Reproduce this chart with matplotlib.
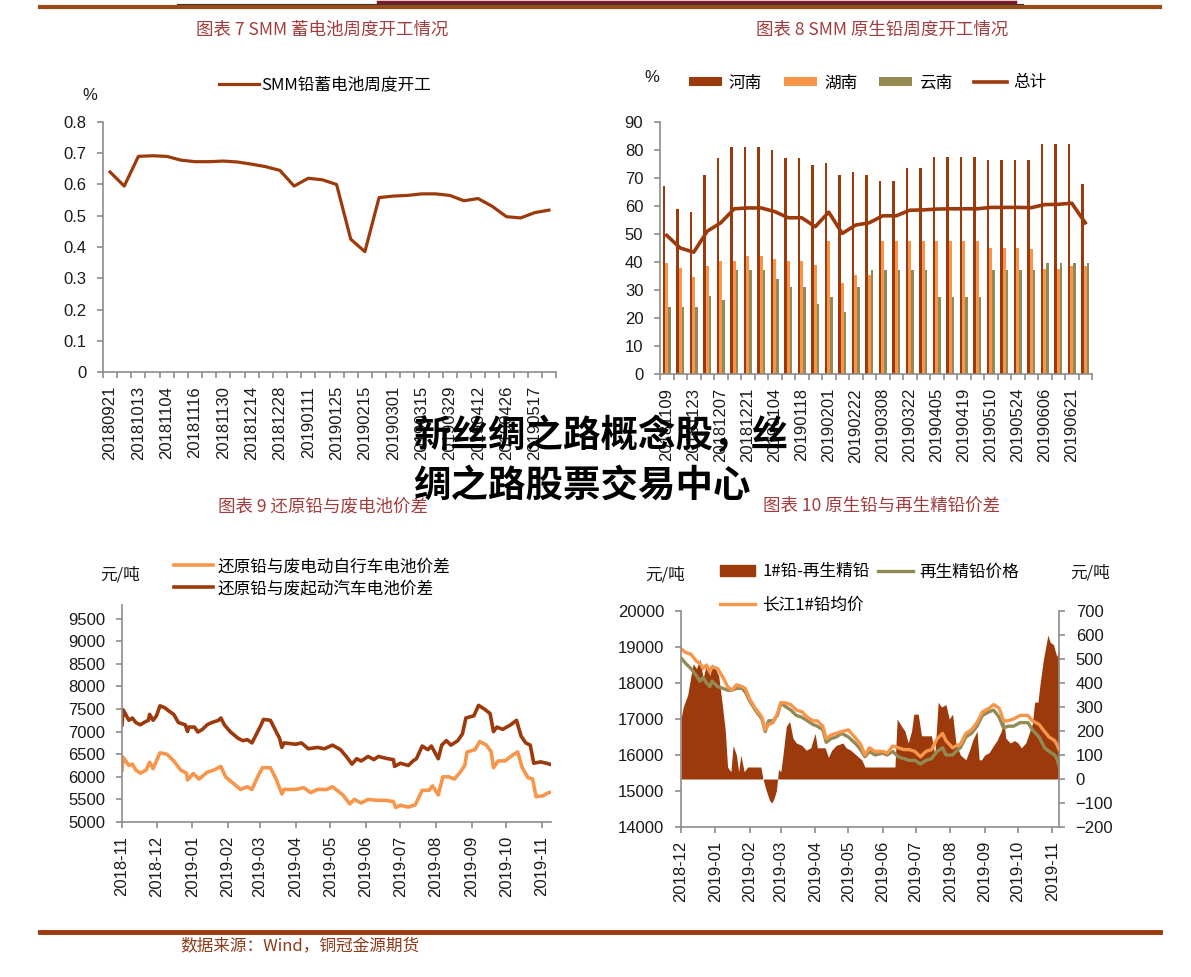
import numpy as np
import matplotlib
matplotlib.use("Agg")
import matplotlib.pyplot as plt
import matplotlib.dates as mdates
from matplotlib.lines import Line2D
from matplotlib.patches import Patch
import pandas as pd

plt.rcParams['font.family'] = ['Liberation Sans', 'Noto Sans CJK SC', 'DejaVu Sans']
CJK = ['Noto Sans CJK SC', 'DejaVu Sans']

DARK = '#9C3A0B'
ORANGE = '#F7964A'
OLIVE = '#948A54'
GRAY = '#8C8C8C'
TITLE = '#A33C3C'

# ---- chart 7: SMM lead battery weekly operating rate
labels1 = ['20180921', '20181013', '20181104', '20181116', '20181130', '20181214',
           '20181228', '20190111', '20190125', '20190215', '20190301', '20190315',
           '20190329', '20190412', '20190426', '20190517']
vals1 = [0.64, 0.595, 0.69, 0.692, 0.69, 0.678, 0.673, 0.673, 0.675, 0.672, 0.665,
         0.657, 0.645, 0.595, 0.62, 0.615, 0.60, 0.425, 0.385, 0.558, 0.563, 0.565,
         0.57, 0.57, 0.565, 0.548, 0.555, 0.53, 0.497, 0.493, 0.51, 0.518]

# ---- chart 8: primary lead weekly operating rate
labels2 = ['20181109', '20181123', '20181207', '20181221', '20190104', '20190118',
           '20190201', '20190222', '20190308', '20190322', '20190405', '20190419',
           '20190510', '20190524', '20190606', '20190621']
henan = [67, 59, 58, 71, 77, 81, 81, 81, 80, 77, 77, 74.5, 75.5, 71, 72, 71,
         69, 69, 73.5, 73.5, 77.5, 77.5, 77.5, 77.5, 76.5, 76.5, 76.5, 76.5, 82, 82, 82, 68]
hunan = [39.5, 38, 34.5, 38.5, 40.5, 40.5, 42, 42, 41, 40.5, 40.5, 39, 47.5, 32.5, 35.5, 35.5,
         47.5, 47.5, 47.5, 47.5, 47.5, 47.5, 47.5, 47.5, 45, 45, 45, 44.5, 37.5, 37.5, 38.5, 38.5]
yunnan = [24, 24, 24, 28, 26.5, 37, 37, 37, 34, 31, 31, 25, 27.5, 22, 31, 37,
          37, 37, 37, 37, 27.5, 27.5, 27.5, 27.5, 37, 37, 37, 37, 39.5, 39.5, 39.5, 39.5]
total = [49.5, 45, 43.5, 51, 54, 59, 59.3, 59.3, 58, 55.8, 55.8, 52.6, 57.8, 50.2, 53.2, 54,
         56.5, 56.5, 58.5, 58.6, 58.9, 59, 59, 59, 59.5, 59.5, 59.5, 59.4, 60.5, 60.6, 61, 54]

# ---- chart 9: reduced lead vs scrap battery spread
bike = [("2018-11-01", 6150), ("2018-11-02", 6430), ("2018-11-07", 6250), ("2018-11-10", 6280),
        ("2018-11-13", 6150), ("2018-11-17", 6080), ("2018-11-22", 6150), ("2018-11-25", 6320),
        ("2018-11-28", 6180), ("2018-12-04", 6530), ("2018-12-10", 6500), ("2018-12-16", 6350),
        ("2018-12-22", 6150), ("2018-12-27", 6080), ("2018-12-28", 5930), ("2019-01-02", 6070),
        ("2019-01-07", 5950), ("2019-01-14", 6100), ("2019-01-20", 6150), ("2019-01-26", 6230),
        ("2019-01-30", 6000), ("2019-02-06", 5850), ("2019-02-12", 5720), ("2019-02-18", 5780),
        ("2019-02-22", 5720), ("2019-02-26", 5950), ("2019-03-03", 6200), ("2019-03-10", 6200),
        ("2019-03-15", 5950), ("2019-03-20", 5620), ("2019-03-22", 5720), ("2019-04-01", 5720),
        ("2019-04-08", 5760), ("2019-04-14", 5650), ("2019-04-20", 5720), ("2019-04-28", 5720),
        ("2019-05-03", 5780), ("2019-05-12", 5600), ("2019-05-18", 5400), ("2019-05-22", 5500),
        ("2019-05-28", 5420), ("2019-06-03", 5500), ("2019-06-10", 5480), ("2019-06-18", 5480),
        ("2019-06-25", 5450), ("2019-06-27", 5320), ("2019-07-01", 5370), ("2019-07-08", 5330),
        ("2019-07-14", 5380), ("2019-07-20", 5700), ("2019-07-26", 5700), ("2019-07-29", 5800),
        ("2019-08-03", 5600), ("2019-08-07", 6000), ("2019-08-12", 6000), ("2019-08-17", 5950),
        ("2019-08-22", 6100), ("2019-08-26", 6250), ("2019-08-28", 6550), ("2019-09-04", 6600),
        ("2019-09-08", 6780), ("2019-09-14", 6700), ("2019-09-18", 6550), ("2019-09-20", 6200),
        ("2019-09-24", 6350), ("2019-09-30", 6350), ("2019-10-05", 6450), ("2019-10-11", 6550),
        ("2019-10-15", 6200), ("2019-10-20", 5980), ("2019-10-24", 5950), ("2019-10-27", 5560),
        ("2019-11-02", 5580), ("2019-11-06", 5640), ("2019-11-09", 5660)]
car = [("2018-11-01", 7150), ("2018-11-02", 7480), ("2018-11-07", 7250), ("2018-11-10", 7300),
       ("2018-11-13", 7200), ("2018-11-17", 7150), ("2018-11-20", 7200), ("2018-11-24", 7250),
       ("2018-11-25", 7380), ("2018-11-28", 7250), ("2018-12-01", 7350), ("2018-12-04", 7570),
       ("2018-12-08", 7530), ("2018-12-12", 7450), ("2018-12-16", 7380), ("2018-12-20", 7200),
       ("2018-12-26", 7150), ("2018-12-28", 7000), ("2018-12-29", 7100), ("2019-01-03", 7100),
       ("2019-01-06", 6990), ("2019-01-10", 7050), ("2019-01-14", 7150), ("2019-01-18", 7200),
       ("2019-01-24", 7250), ("2019-01-26", 7300), ("2019-01-29", 7150), ("2019-02-03", 7000),
       ("2019-02-10", 6850), ("2019-02-14", 6800), ("2019-02-18", 6820), ("2019-02-22", 6750),
       ("2019-02-26", 6950), ("2019-03-02", 7150), ("2019-03-04", 7270), ("2019-03-10", 7250),
       ("2019-03-14", 7050), ("2019-03-18", 6850), ("2019-03-20", 6650), ("2019-03-22", 6750),
       ("2019-04-01", 6720), ("2019-04-06", 6750), ("2019-04-12", 6620), ("2019-04-20", 6650),
       ("2019-04-26", 6620), ("2019-05-03", 6700), ("2019-05-10", 6600), ("2019-05-15", 6450),
       ("2019-05-20", 6280), ("2019-05-24", 6400), ("2019-05-28", 6350), ("2019-06-03", 6450),
       ("2019-06-08", 6380), ("2019-06-12", 6450), ("2019-06-20", 6400), ("2019-06-25", 6380),
       ("2019-06-26", 6230), ("2019-07-01", 6300), ("2019-07-08", 6250), ("2019-07-12", 6350),
       ("2019-07-15", 6400), ("2019-07-20", 6680), ("2019-07-25", 6600), ("2019-07-28", 6680),
       ("2019-08-03", 6400), ("2019-08-06", 6700), ("2019-08-10", 6800), ("2019-08-14", 6700),
       ("2019-08-20", 6800), ("2019-08-24", 6950), ("2019-08-27", 7300), ("2019-09-03", 7350),
       ("2019-09-07", 7580), ("2019-09-12", 7500), ("2019-09-17", 7400), ("2019-09-20", 7000),
       ("2019-09-23", 7100), ("2019-09-28", 7050), ("2019-10-05", 7150), ("2019-10-10", 7250),
       ("2019-10-14", 6900), ("2019-10-18", 6750), ("2019-10-22", 6700), ("2019-10-25", 6300),
       ("2019-10-31", 6330), ("2019-11-05", 6300), ("2019-11-09", 6270)]

# ---- chart 10: primary vs recycled refined lead
spread = [("2018-12-01", 250), ("2018-12-03", 300), ("2018-12-07", 350), ("2018-12-10", 430),
          ("2018-12-12", 480), ("2018-12-15", 460), ("2018-12-18", 500), ("2018-12-21", 420),
          ("2018-12-24", 480), ("2018-12-27", 430), ("2018-12-29", 480), ("2019-01-01", 460),
          ("2019-01-04", 430), ("2019-01-07", 320), ("2019-01-10", 200), ("2019-01-12", 50),
          ("2019-01-15", 30), ("2019-01-17", 140), ("2019-01-20", 100), ("2019-01-22", 30),
          ("2019-01-24", 100), ("2019-01-27", 30), ("2019-01-30", 50), ("2019-02-05", 50),
          ("2019-02-11", 50), ("2019-02-13", 0), ("2019-02-16", -50), ("2019-02-19", -90),
          ("2019-02-21", -100), ("2019-02-23", -80), ("2019-02-25", -50), ("2019-02-27", 40),
          ("2019-03-01", 30), ("2019-03-03", 100), ("2019-03-06", 220), ("2019-03-09", 240),
          ("2019-03-12", 170), ("2019-03-15", 150), ("2019-03-20", 140), ("2019-03-24", 120),
          ("2019-03-28", 130), ("2019-04-01", 190), ("2019-04-03", 130), ("2019-04-10", 130),
          ("2019-04-13", 90), ("2019-04-16", 120), ("2019-04-20", 140), ("2019-04-26", 150),
          ("2019-04-29", 130), ("2019-05-03", 120), ("2019-05-08", 100), ("2019-05-13", 80),
          ("2019-05-16", 50), ("2019-05-31", 50), ("2019-06-12", 50), ("2019-06-14", 250),
          ("2019-06-18", 220), ("2019-06-21", 200), ("2019-06-24", 150), ("2019-06-27", 200),
          ("2019-06-29", 270), ("2019-07-03", 270), ("2019-07-06", 180), ("2019-07-15", 180),
          ("2019-07-18", 100), ("2019-07-21", 320), ("2019-07-24", 300), ("2019-07-28", 310),
          ("2019-07-31", 250), ("2019-08-03", 270), ("2019-08-06", 150), ("2019-08-10", 100),
          ("2019-08-15", 80), ("2019-08-19", 130), ("2019-08-21", 160), ("2019-08-25", 200),
          ("2019-08-27", 80), ("2019-08-29", 80), ("2019-09-01", 100), ("2019-09-05", 110),
          ("2019-09-09", 140), ("2019-09-12", 160), ("2019-09-16", 200), ("2019-09-18", 250),
          ("2019-09-20", 170), ("2019-09-24", 150), ("2019-09-28", 160), ("2019-10-01", 150),
          ("2019-10-04", 130), ("2019-10-08", 150), ("2019-10-11", 190), ("2019-10-14", 230),
          ("2019-10-16", 320), ("2019-10-19", 320), ("2019-10-21", 400), ("2019-10-24", 500),
          ("2019-10-26", 550), ("2019-10-28", 600), ("2019-10-30", 570), ("2019-11-02", 560),
          ("2019-11-05", 510), ("2019-11-07", 540)]
price_days = ["2018-12-01", "2018-12-05", "2018-12-10", "2018-12-15", "2018-12-18", "2018-12-21",
              "2018-12-24", "2018-12-27", "2018-12-29", "2019-01-03", "2019-01-08", "2019-01-12",
              "2019-01-16", "2019-01-20", "2019-01-25", "2019-01-28", "2019-02-01", "2019-02-06",
              "2019-02-12", "2019-02-15", "2019-02-18", "2019-02-22", "2019-02-26", "2019-03-01",
              "2019-03-05", "2019-03-10", "2019-03-15", "2019-03-20", "2019-03-25", "2019-03-30",
              "2019-04-03", "2019-04-08", "2019-04-11", "2019-04-15", "2019-04-20", "2019-04-25",
              "2019-05-01", "2019-05-08", "2019-05-12", "2019-05-16", "2019-05-20", "2019-05-25",
              "2019-06-01", "2019-06-05", "2019-06-10", "2019-06-15", "2019-06-20", "2019-06-25",
              "2019-06-30", "2019-07-05", "2019-07-10", "2019-07-15", "2019-07-20", "2019-07-25",
              "2019-07-28", "2019-08-03", "2019-08-06", "2019-08-10", "2019-08-15", "2019-08-20",
              "2019-08-25", "2019-08-30", "2019-09-05", "2019-09-09", "2019-09-14", "2019-09-18",
              "2019-09-22", "2019-09-27", "2019-10-03", "2019-10-10", "2019-10-14", "2019-10-20",
              "2019-10-25", "2019-10-29", "2019-11-03", "2019-11-05", "2019-11-07"]
recycled = [18700, 18550, 18400, 18200, 18050, 18150, 18000, 17900, 18050, 17900, 17850, 17800,
            17800, 17850, 17850, 17750, 17500, 17250, 17000, 16650, 16950, 16950, 17100, 17450,
            17350, 17250, 17100, 17050, 16950, 16850, 16800, 16700, 16350, 16450, 16500, 16600,
            16500, 16300, 16150, 15950, 16100, 16000, 16050, 16000, 16100, 15950, 15900, 15850,
            15850, 15750, 15850, 15900, 16100, 16200, 16000, 16000, 16100, 16200, 16500, 16600,
            16800, 17100, 17200, 17250, 17050, 16750, 16800, 16800, 16900, 16900, 16700, 16500,
            16200, 16100, 16000, 15900, 15700]
changjiang = [18950, 18850, 18800, 18600, 18550, 18400, 18500, 18300, 18450, 18400, 18150, 17900,
              17800, 17950, 17900, 17850, 17550, 17300, 17050, 16700, 16850, 16900, 17150, 17450,
              17450, 17400, 17250, 17200, 17050, 16950, 16950, 16800, 16450, 16550, 16600, 16650,
              16700, 16450, 16300, 16000, 16200, 16100, 16100, 16050, 16250, 16200, 16150, 16150,
              16100, 15950, 16100, 16150, 16450, 16600, 16400, 16200, 16250, 16300, 16600, 16700,
              16900, 17200, 17300, 17400, 17300, 16950, 16950, 17000, 17100, 17100, 16950, 16850,
              16650, 16500, 16400, 16300, 16150]

W, H = 1191, 977
fig = plt.figure(figsize=(W / 100, H / 100), dpi=100)


def px_axes(l, t, r, b):
    return fig.add_axes([l / W, 1 - b / H, (r - l) / W, (b - t) / H])


def fx(x):
    return x / W


def fy(y):
    return 1 - y / H


def style(ax):
    for s in ['top', 'right']:
        ax.spines[s].set_visible(False)
    for s in ['left', 'bottom']:
        ax.spines[s].set_color(GRAY)
        ax.spines[s].set_linewidth(1.2)
    ax.tick_params(colors=GRAY, labelcolor='#1a1a1a', labelsize=12, length=4, width=1.2)
    ax.tick_params(axis='y', pad=8)


# decorations
fig.add_artist(Line2D([fx(378), fx(1015)], [fy(1.5)] * 2, transform=fig.transFigure, color='#7B1B2A', lw=2.5))
fig.add_artist(Line2D([fx(177), fx(1023)], [fy(4)] * 2, transform=fig.transFigure, color='#333333', lw=0.8))
fig.add_artist(Line2D([fx(40), fx(1160)], [fy(7)] * 2, transform=fig.transFigure, color='#9C4A1A', lw=3))
fig.add_artist(Line2D([fx(40), fx(1160)], [fy(932)] * 2, transform=fig.transFigure, color='#9C3A0B', lw=3.5))

tkw = dict(color=TITLE, fontsize=12.6, family=CJK, ha='center', va='center')
fig.text(fx(322), fy(30), '图表 7 SMM 蓄电池周度开工情况', **tkw)
fig.text(fx(882), fy(30), '图表 8 SMM 原生铅周度开工情况', **tkw)
fig.text(fx(323), fy(506), '图表 9 还原铅与废电池价差', **tkw)
fig.text(fx(882), fy(506), '图表 10 原生铅与再生精铅价差', **tkw)
fig.text(fx(180), fy(946), '数据来源：Wind，铜冠金源期货', color='#8B3A1A', fontsize=12, family=CJK, ha='left', va='center')

# ---- chart 7
ax1 = px_axes(103, 122, 556, 372)
style(ax1)
x1 = np.arange(len(vals1))
ax1.plot(x1, vals1, color=DARK, lw=2.3, label='SMM铅蓄电池周度开工')
ax1.set_xlim(-0.5, len(vals1) - 0.5)
ax1.set_ylim(0, 0.8)
ax1.set_yticks(np.arange(0, 0.81, 0.1))
ax1.set_yticklabels(['0'] + ['%.1f' % v for v in np.arange(0.1, 0.81, 0.1)])
ax1.set_xticks(np.arange(-0.5, len(vals1)), [''] * (len(vals1) + 1))
ax1.set_xticks(x1[::2], labels1, minor=True)
ax1.tick_params(axis='x', which='minor', length=0, pad=10, labelsize=12, labelrotation=90, labelcolor='#1a1a1a')
fig.text(fx(90), fy(95), '%', fontsize=12, ha='center', va='center', color='#1a1a1a')
ax1.legend(loc='center', bbox_to_anchor=(fx(325), fy(85)), bbox_transform=fig.transFigure,
           frameon=False, handlelength=2.4, handletextpad=0.1, prop={'family': CJK, 'size': 12})

# ---- chart 8
ax2 = px_axes(660, 122, 1092, 374)
style(ax2)
x2 = np.arange(len(henan))
b1 = ax2.bar(x2 - 0.2, henan, 0.2, color=DARK, label='河南')
b2 = ax2.bar(x2, hunan, 0.2, color=ORANGE, label='湖南')
b3 = ax2.bar(x2 + 0.2, yunnan, 0.2, color=OLIVE, label='云南')
l4, = ax2.plot(x2, total, color=DARK, lw=2.6, label='总计')
ax2.set_xlim(-0.5, len(henan) - 0.5)
ax2.set_ylim(0, 90)
ax2.set_yticks(np.arange(0, 91, 10))
ax2.set_xticks(np.arange(-0.5, len(henan)), [''] * (len(henan) + 1))
ax2.set_xticks(x2[::2], labels2, minor=True)
ax2.tick_params(axis='x', which='minor', length=0, pad=10, labelsize=12, labelrotation=90, labelcolor='#1a1a1a')
fig.text(fx(652), fy(77), '%', fontsize=12, ha='center', va='center', color='#1a1a1a')
ax2.legend([b1, b2, b3, l4], ['河南', '湖南', '云南', '总计'],
           loc='center', bbox_to_anchor=(fx(868), fy(83)), bbox_transform=fig.transFigure, ncol=4,
           frameon=False, handlelength=2.0, handleheight=0.5, handletextpad=0.4, columnspacing=1.3,
           prop={'family': CJK, 'size': 12})

# ---- chart 9
ax3 = px_axes(122, 605, 551, 822)
style(ax3)
bike_df = pd.DataFrame(bike, columns=['date', 'v'])
car_df = pd.DataFrame(car, columns=['date', 'v'])
bike_df['date'] = pd.to_datetime(bike_df['date'])
car_df['date'] = pd.to_datetime(car_df['date'])
ax3.plot(bike_df['date'], bike_df['v'], color=ORANGE, lw=2.6, label='还原铅与废电动自行车电池价差')
ax3.plot(car_df['date'], car_df['v'], color=DARK, lw=2.6, label='还原铅与废起动汽车电池价差')
ax3.set_xlim(pd.Timestamp('2018-11-01'), pd.Timestamp('2019-11-09'))
ax3.set_ylim(5000, 9800)
ax3.set_yticks(np.arange(5000, 9501, 500))
ax3.xaxis.set_major_locator(mdates.MonthLocator())
ax3.xaxis.set_major_formatter(mdates.DateFormatter('%Y-%m'))
ax3.tick_params(axis='x', labelrotation=90, pad=6)
fig.text(fx(120), fy(575), '元/吨', fontsize=12, family=CJK, ha='center', va='center', color='#1a1a1a')
ax3.legend(loc='upper left', bbox_to_anchor=(fx(166), fy(550)), bbox_transform=fig.transFigure,
           frameon=False, handlelength=2.3, handletextpad=0.3, labelspacing=0.3, borderpad=0,
           prop={'family': CJK, 'size': 12})

# ---- chart 10 (lines on left scale, spread area on right scale)
ax4 = px_axes(681, 611, 1059, 827)
ax4r = ax4.twinx()
ax4.set_zorder(ax4r.get_zorder() + 1)
ax4.patch.set_visible(False)
for a in (ax4, ax4r):
    for s in a.spines.values():
        s.set_visible(False)
    a.tick_params(colors=GRAY, labelcolor='#1a1a1a', labelsize=12, length=4, width=1.2)
    a.tick_params(axis='y', pad=8)
for a, s in ((ax4, 'left'), (ax4, 'bottom'), (ax4r, 'right')):
    a.spines[s].set_visible(True)
    a.spines[s].set_color(GRAY)
    a.spines[s].set_linewidth(1.2)

sp_df = pd.DataFrame(spread, columns=['date', 'v'])
sp_df['date'] = pd.to_datetime(sp_df['date'])
pdays = pd.to_datetime(price_days)
ax4r.fill_between(sp_df['date'], 0, sp_df['v'], color=DARK, lw=0)
l_old, = ax4.plot(pdays, recycled, color=OLIVE, lw=2.4)
l_cj, = ax4.plot(pdays, changjiang, color=ORANGE, lw=2.4)
xl = (pd.Timestamp('2018-12-01'), pd.Timestamp('2019-11-07'))
ax4.set_xlim(xl)
ax4.set_ylim(14000, 20000)
ax4.set_yticks(np.arange(14000, 20001, 1000))
ax4r.set_ylim(-200, 700)
ax4r.set_yticks(np.arange(-200, 701, 100))
ax4.xaxis.set_major_locator(mdates.MonthLocator())
ax4.xaxis.set_major_formatter(mdates.DateFormatter('%Y-%m'))
ax4.tick_params(axis='x', labelrotation=90, pad=6)
fig.text(fx(665), fy(575), '元/吨', fontsize=12, family=CJK, ha='center', va='center', color='#1a1a1a')
fig.text(fx(1090), fy(573), '元/吨', fontsize=12, family=CJK, ha='center', va='center', color='#1a1a1a')
h_fill = Patch(color=DARK)
ax4.legend([h_fill, l_cj, l_old], ['1#铅-再生精铅', '长江1#铅均价', '再生精铅价格'], ncol=2,
           loc='upper left', bbox_to_anchor=(fx(712), fy(555)), bbox_transform=fig.transFigure,
           frameon=False, handlelength=2.1, handleheight=0.6, handletextpad=0.4, labelspacing=1.0,
           columnspacing=0.5, borderpad=0, prop={'family': CJK, 'size': 12})

# watermark
wkw = dict(fontsize=27, fontweight='heavy', family=CJK, ha='left', va='center', color='black')
fig.text(fx(413), fy(435), '新丝绸之路概念股，丝', **wkw)
fig.text(fx(413), fy(485), '绸之路股票交易中心', **wkw)

fig.savefig('out.png', dpi=100)
